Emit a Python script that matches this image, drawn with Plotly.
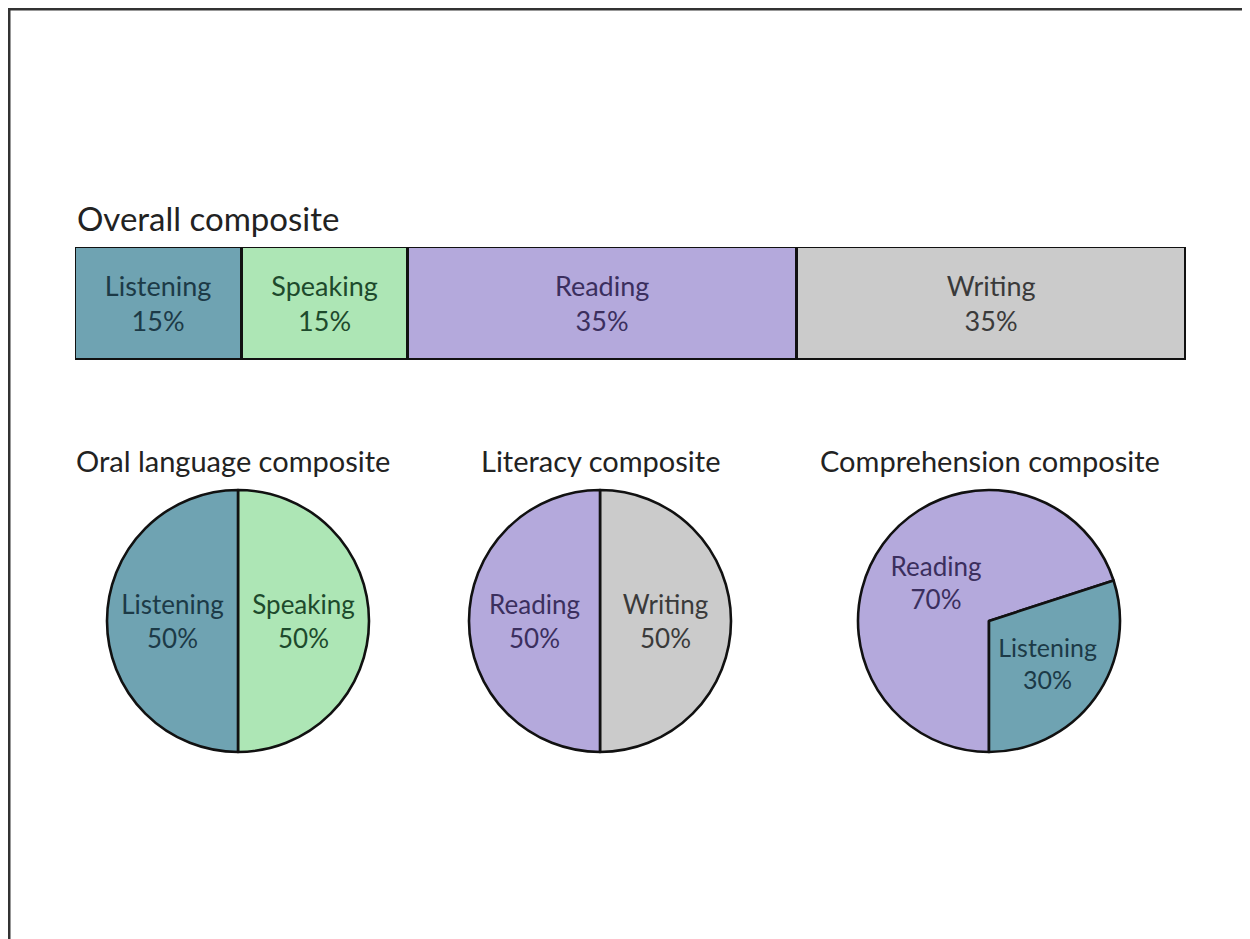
import plotly.graph_objects as go

W, H = 1250, 939
OFF = 8  # page body margin

# ---- data ----
overall_labels = ["Listening", "Speaking", "Reading", "Writing"]
overall_values = [15, 15, 35, 35]

oral_labels = ["Speaking", "Listening"]
oral_values = [50, 50]

literacy_labels = ["Writing", "Reading"]
literacy_values = [50, 50]

comp_labels = ["Reading", "Listening"]
comp_values = [70, 30]

fill = {"Listening": "#6FA3B2", "Speaking": "#ADE6B5", "Reading": "#B4A9DC", "Writing": "#CBCBCB"}
ink = {"Listening": "#1C3A47", "Speaking": "#1D4A2C", "Reading": "#3B2F5E", "Writing": "#3A3A3A"}

FONT = "Lato"

def px_x(x):
    return (x - OFF) / W

def px_y(y):
    return 1 - (y - OFF) / H

fig = go.Figure()

# ---- stacked bar ----
for lab, val in zip(overall_labels, overall_values):
    fig.add_trace(go.Bar(
        y=["Overall"], x=[val], orientation="h", name=lab,
        marker=dict(color=fill[lab], line=dict(color="#111111", width=2.8)),
        text=[f"{lab}<br>{val}%"], textposition="inside", insidetextanchor="middle",
        textangle=0, textfont=dict(family=FONT, size=27, color=ink[lab]),
        hoverinfo="skip", showlegend=False,
    ))

fig.update_layout(
    barmode="stack", bargap=0,
    xaxis=dict(domain=[px_x(75), px_x(1186)], range=[0, 100], visible=False, fixedrange=True),
    yaxis=dict(domain=[px_y(360), px_y(247)], visible=False, fixedrange=True),
)

# ---- pies ----
def add_pie(labels, values, cx, cy, r, rotation):
    fig.add_trace(go.Pie(
        labels=labels, values=values, sort=False, direction="clockwise",
        rotation=rotation,
        domain=dict(x=[px_x(cx - r), px_x(cx + r)], y=[px_y(cy + r), px_y(cy - r)]),
        marker=dict(colors=[fill[l] for l in labels], line=dict(color="#111111", width=2.6)),
        texttemplate="%{label}<br>%{value}%", textposition="inside",
        insidetextorientation="horizontal",
        insidetextfont=dict(family=FONT, size=26, color=[ink[l] for l in labels]),
        hoverinfo="skip", showlegend=False,
    ))

add_pie(oral_labels, oral_values, 238, 621, 131, 0)
add_pie(literacy_labels, literacy_values, 600, 621, 131, 0)
add_pie(comp_labels, comp_values, 989, 621, 131, 180)

# ---- titles ----
annos = [
    dict(text="Overall composite", x=px_x(75), y=px_y(218), xanchor="left", size=33),
    dict(text="Oral language composite", x=px_x(233), y=px_y(461), xanchor="center", size=29),
    dict(text="Literacy composite", x=px_x(600), y=px_y(461), xanchor="center", size=29),
    dict(text="Comprehension composite", x=px_x(990), y=px_y(461), xanchor="center", size=29),
]
for a in annos:
    fig.add_annotation(text=a["text"], x=a["x"], y=a["y"], xref="paper", yref="paper",
                       xanchor=a["xanchor"], yanchor="middle", showarrow=False,
                       font=dict(family=FONT, size=a["size"], color="#222222"))

# ---- frame lines ----
fig.add_shape(type="line", xref="paper", yref="paper", x0=px_x(8), x1=1, y0=px_y(9), y1=px_y(9),
              line=dict(color="#333333", width=3))
fig.add_shape(type="line", xref="paper", yref="paper", x0=px_x(9), x1=px_x(9), y0=0, y1=px_y(9),
              line=dict(color="#333333", width=3))

fig.update_layout(
    width=W, height=H, margin=dict(l=0, r=0, t=0, b=0),
    paper_bgcolor="white", plot_bgcolor="white",
    font=dict(family=FONT),
)

fig.write_html("out.html", config={"displayModeBar": False})
